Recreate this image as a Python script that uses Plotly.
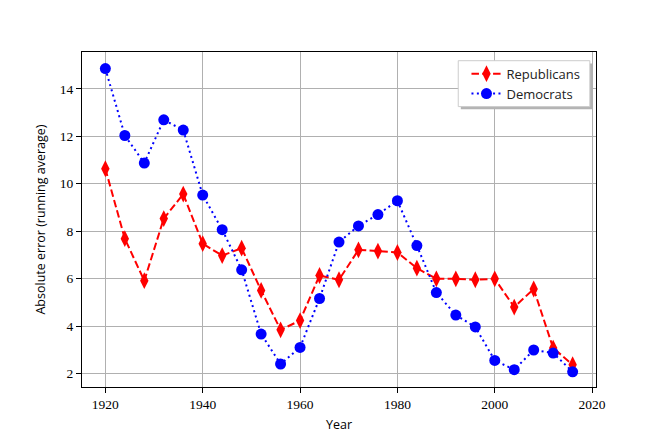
import plotly.graph_objs as go

years = list(range(1920, 2020, 4))

rep_error = [10.63, 7.68, 5.91, 8.53, 9.56, 7.47, 6.97, 7.28, 5.50, 3.84,
             4.23, 6.13, 5.95, 7.21, 7.16, 7.10, 6.44, 5.99, 5.99, 5.95,
             5.99, 4.80, 5.56, 3.07, 2.37]
dem_error = [14.85, 12.03, 10.87, 12.69, 12.26, 9.52, 8.06, 6.37, 3.66, 2.40,
             3.10, 5.16, 7.54, 8.22, 8.70, 9.28, 7.39, 5.41, 4.46, 3.96,
             2.55, 2.16, 2.99, 2.86, 2.07]

x_ticks = [1920, 1940, 1960, 1980, 2000, 2020]
y_ticks = [2, 4, 6, 8, 10, 12, 14]

serif = "Times New Roman, Liberation Serif, serif"
sans = "Open Sans"

trace_rep = go.Scatter(x=years, y=rep_error, mode='lines+markers', name='Republicans',
                       line=dict(color='red', width=2, dash='7.5px,3.3px'),
                       marker=dict(symbol='diamond-tall', size=12, color='red'))
trace_dem = go.Scatter(x=years, y=dem_error, mode='lines+markers', name='Democrats',
                       line=dict(color='blue', width=2, dash='2px,3.4px'),
                       marker=dict(symbol='circle', size=11, color='blue'))

axis_style = dict(showgrid=True, gridcolor='#b0b0b0', gridwidth=1.1,
                  showline=True, linecolor='black', linewidth=1.1, mirror=True,
                  ticks='outside', ticklen=5, tickwidth=1.1, tickcolor='black',
                  zeroline=False, tickfont=dict(family=serif, size=13.5, color='black'))

layout = go.Layout(
    width=664, height=443,
    margin=dict(l=82, r=68, t=52, b=56),
    paper_bgcolor='white', plot_bgcolor='white',
    showlegend=True,
    legend=dict(x=0.748, y=0.98, xanchor='left', yanchor='top',
                bgcolor='rgba(0,0,0,0)', borderwidth=0,
                font=dict(family=sans, size=13, color='#222'),
                tracegroupgap=0, itemwidth=30),
    xaxis=dict(axis_style, range=[1915.2, 2020.8], tickvals=x_ticks,
               title=dict(text='Year', font=dict(family=sans, size=12.5, color='black'),
                          standoff=8)),
    yaxis=dict(axis_style, range=[1.43, 15.55], tickvals=y_ticks,
               title=dict(text='Absolute error (running average)',
                          font=dict(family=sans, size=12.5, color='black'),
                          standoff=11)),
    shapes=[
        # legend shadow and frame
        dict(type='rect', xref='paper', yref='paper', x0=0.737, x1=0.993,
             y0=0.829, y1=0.966, fillcolor='#b3b3b3', line=dict(width=0), layer='above'),
        dict(type='rect', xref='paper', yref='paper', x0=0.732, x1=0.988,
             y0=0.837, y1=0.974, fillcolor='white', line=dict(color='#cccccc', width=1),
             layer='above'),
    ],
)

fig = go.Figure([trace_rep, trace_dem], layout)
fig.write_html("out.html", config={'displayModeBar': False},
               post_script="document.body.style.margin='0';")
